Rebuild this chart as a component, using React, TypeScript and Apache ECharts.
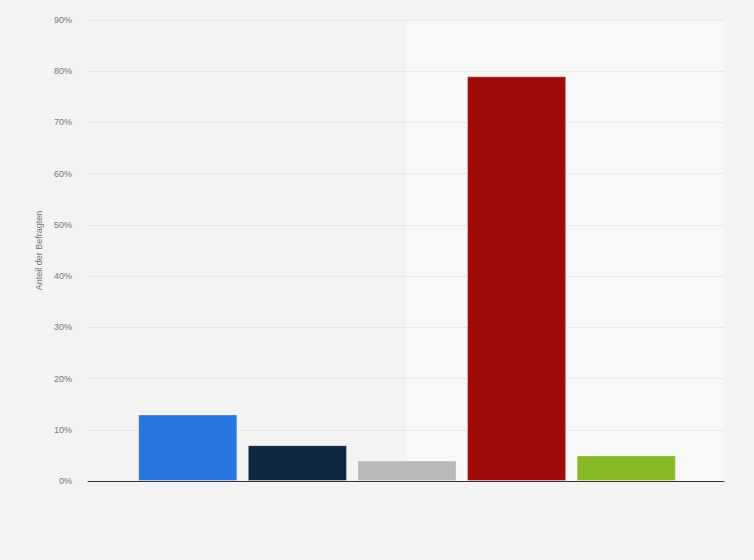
import { useEffect, useRef } from "react";
import * as echarts from "echarts";

const categories = ["A", "B", "C", "D", "E"];
const values = [13, 7, 4, 79, 5];
const barColors = ["#2876dd", "#0f2741", "#b8b8b8", "#a10a0a", "#86b925"];
const yTicks = [0, 10, 20, 30, 40, 50, 60, 70, 80, 90];

const W = 754;
const PLOT_L = 88;
const PLOT_R = 724;
const PLOT_T = 20;
const PLOT_B = 481;

export default function App() {
  const ref = useRef<HTMLDivElement>(null);

  useEffect(() => {
    if (!ref.current) return;
    const chart = echarts.init(ref.current, null, { renderer: "svg" });
    const yMax = yTicks[yTicks.length - 1];
    chart.setOption({
      animation: false,
      backgroundColor: "#f3f3f3",
      textStyle: { fontFamily: "Arial, 'Liberation Sans', sans-serif" },
      graphic: [
        {
          type: "rect",
          z: -10,
          shape: { x: 406.5, y: PLOT_T, width: PLOT_R - 406.5, height: PLOT_B - PLOT_T },
          style: { fill: "#f8f8f8" },
        },
      ],
      grid: [
        { left: PLOT_L, right: W - PLOT_R, top: PLOT_T, bottom: 560 - PLOT_B },
        { left: 133, right: W - 681, top: PLOT_T, bottom: 560 - PLOT_B },
      ],
      xAxis: [
        {
          gridIndex: 0,
          type: "value",
          min: 0,
          max: 1,
          axisLine: { show: true, onZero: false, lineStyle: { color: "#333", width: 1 } },
          axisTick: { show: false },
          axisLabel: { show: false },
          splitLine: { show: false },
        },
        {
          gridIndex: 1,
          type: "category",
          data: categories,
          axisLine: { show: false },
          axisTick: { show: false },
          axisLabel: { show: false },
        },
      ],
      yAxis: [
        {
          gridIndex: 0,
          type: "value",
          min: 0,
          max: yMax,
          interval: 10,
          name: "Anteil der Befragten",
          nameLocation: "middle",
          nameGap: 45,
          nameTextStyle: { color: "#777", fontSize: 9 },
          axisLine: { show: false },
          axisTick: { show: false },
          axisLabel: { color: "#777", fontSize: 9, margin: 16, formatter: "{value}%" },
          splitLine: { lineStyle: { color: "#dcdcdc", type: [1, 1] } },
        },
        {
          gridIndex: 1,
          type: "value",
          min: 0,
          max: yMax,
          interval: 10,
          show: false,
          splitLine: { show: false },
        },
      ],
      series: [
        {
          type: "bar",
          xAxisIndex: 1,
          yAxisIndex: 1,
          barCategoryGap: "9.5%",
          data: values.map((v, i) => ({
            value: v,
            itemStyle: {
              color: barColors[i],
              borderColor: "rgba(255,255,255,0.35)",
              borderWidth: 1,
            },
          })),
        },
      ],
    });
    return () => chart.dispose();
  }, []);

  return (
    <div
      ref={ref}
      style={{ width: W, height: 560, position: "absolute", left: 0, top: 0 }}
    />
  );
}
